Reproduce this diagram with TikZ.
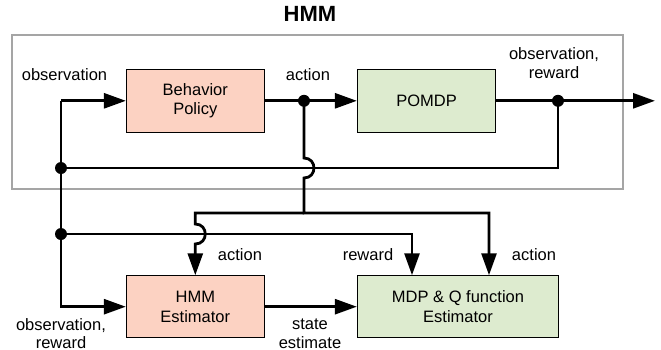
\documentclass[tikz,border=0pt]{standalone}
\usepackage{fontspec}
\setmainfont{Liberation Sans}
\usetikzlibrary{arrows.meta}
\definecolor{salmon}{RGB}{252,210,194}
\definecolor{paleg}{RGB}{221,235,207}
\definecolor{framegray}{RGB}{165,165,165}
\begin{document}
\begin{tikzpicture}[x=1pt,y=-1pt,
  blk/.style={draw=black, line width=0.9pt, minimum width=138pt, minimum height=63pt, align=center, inner sep=0pt, font=\fontsize{16.5}{19.5}\selectfont},
  lbl/.style={align=center, inner sep=0pt, font=\fontsize{16.5}{18.7}\selectfont},
  wire/.style={line width=2.8pt, line join=miter},
  arr/.style={wire, -{Triangle[length=22pt,width=15pt]}},
  dot/.style={circle, fill=black, inner sep=0pt, minimum size=12pt}]
\useasboundingbox (0,0) rectangle (661,349);

% frame
\node[draw=framegray, line width=1.2pt, minimum width=611pt, minimum height=154pt, inner sep=0pt] (frame) at (317.5,112) {};
\node[inner sep=0pt, font=\fontsize{22}{24}\selectfont\bfseries] (title) at (310,14.3) {HMM};

% blocks
\node[blk, fill=salmon] (bp) at (195.3,100.8) {Behavior\\Policy};
\node[blk, fill=paleg, minimum width=138.4pt] (pomdp) at (426.5,100.8) {POMDP};
\node[blk, fill=salmon, minimum height=62pt] (hmme) at (195.3,306.7) {HMM\\Estimator};
\node[blk, fill=paleg, minimum width=201.4pt, minimum height=62pt] (mdp) at (458,306.7) {MDP \& Q function\\Estimator};

% coordinates
\coordinate (c0) at (61,100.8);
\coordinate (j1) at (304,100.8);
\coordinate (j2) at (558,100.8);
\coordinate (outend) at (655,100.8);
\coordinate (j3) at (61,168);
\coordinate (j4) at (61,234);
\coordinate (h1a) at (304,158);
\coordinate (h1b) at (304,178);
\coordinate (a1) at (304,213);
\coordinate (a2) at (195.3,213);
\coordinate (h2a) at (195.3,224);
\coordinate (h2b) at (195.3,244);
\coordinate (a3) at (489,213);
\coordinate (r1) at (412,234);

% connectors
\draw[arr] (c0) -- (bp.west);
\draw[arr] (c0) |- (hmme.west);
\draw[arr] (bp.east) -- (pomdp.west);
\draw[arr] (pomdp.east) -- (outend);
\draw[wire] (j2) |- (j3);
\draw[arr] (j1) -- (h1a) .. controls +(13.3,0) and +(13.3,0) .. (h1b) -- (a1) -| (a3 |- mdp.north);
\draw[arr] (a1) -- (a2) -- (h2a) .. controls +(13.3,0) and +(13.3,0) .. (h2b) -- (hmme.north);
\draw[arr] (j4) -| (r1 |- mdp.north);
\draw[arr] (hmme.east) -- (mdp.west);

% dots
\node[dot] (d1) at (j1) {};
\node[dot] (d2) at (j2) {};
\node[dot] (d3) at (j3) {};
\node[dot] (d4) at (j4) {};

% labels
\node[lbl] (l1) at (64.5,75) {observation};
\node[lbl] (l2) at (308,75) {action};
\node[lbl] (l3) at (554,63) {observation,\\reward};
\node[lbl] (l4) at (240,255) {action};
\node[lbl] (l5) at (368,255) {reward};
\node[lbl] (l6) at (534,255) {action};
\node[lbl] (l7) at (61,333.5) {observation,\\reward};
\node[lbl] (l8) at (310,333.5) {state\\estimate};
\end{tikzpicture}
\end{document}
